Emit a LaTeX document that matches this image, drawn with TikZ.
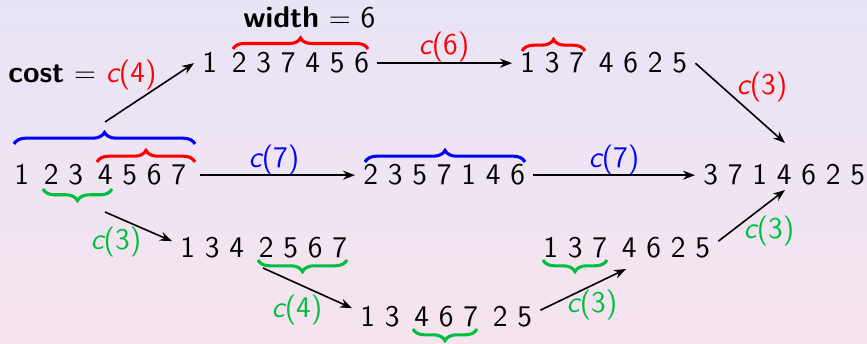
\documentclass[tikz,border=0pt]{standalone}
\usetikzlibrary{decorations.pathreplacing,arrows.meta}
\definecolor{bgtop}{RGB}{232,228,246}
\definecolor{bgbot}{RGB}{246,228,238}
\definecolor{myred}{RGB}{255,0,0}
\definecolor{myblue}{RGB}{0,0,255}
\definecolor{mygreen}{RGB}{0,190,64}
\newcommand{\xg}{\hspace{2.5pt}}
\newcommand{\cc}[1]{{\itshape c}(#1)}
\begin{document}
\begin{tikzpicture}[x=0.5pt,y=0.5pt,
  every node/.style={font=\fontsize{15}{18}\selectfont\sffamily},
  seq/.style={anchor=base west, inner xsep=4pt, inner ysep=0pt},
  lab/.style={inner sep=0pt},
  arr/.style={-{Stealth[length=6pt,width=4.5pt]}, line width=0.8pt, black},
  brc/.style={decorate, decoration={brace, amplitude=5.8pt}, line width=1.55pt},
]
\useasboundingbox (0,0) rectangle (867,343);
\shade[top color=bgtop, bottom color=bgbot] (0,0) rectangle (867,343);

% sequences
\node[seq] (t1) at (194,270) {1\xg{} 2 3 7 4 5 6};
\node[seq] (t2) at (512,270) {1 3 7\xg{} 4 6 2 5};
\node[seq] (m1) at (6,158) {1\xg{} 2 3\xg{} 4 5 6 7};
\node[seq] (m2) at (355,158) {2 3 5 7 1 4 6};
\node[seq] (m3) at (695,158) {3 7 1 4 6 2 5};
\node[seq] (b1) at (172,86) {1 3 4\xg{} 2 5 6 7};
\node[seq] (b2) at (352,17) {1 3\xg{} 4 6 7\xg{} 2 5};
\node[seq] (b3) at (535,86) {1 3 7\xg{} 4 6 2 5};

% braces
\draw[brc, myblue] (14,199) -- (195,199);
\draw[brc, myred] (97,181) -- (195,181);
\draw[brc, mygreen] (112,154) -- (43,154);
\draw[brc, myred, decoration={amplitude=5.5pt}] (233,294) -- (368,294);
\draw[brc, myred] (522,292) -- (585,292);
\draw[brc, myblue] (365,181) -- (525,181);
\draw[brc, mygreen] (347,83) -- (258,83);
\draw[brc, mygreen] (477,14) -- (413,14);
\draw[brc, mygreen] (607,83) -- (543,83);

% labels
\node[lab, anchor=base west] (cost) at (8,260) {{\bfseries cost} $=$ \textcolor{myred}{\cc{4}}};
\node[lab, anchor=base west] (width) at (243,315) {{\bfseries width} $=$ 6};
\node[lab, myred] (l1) at (444,295.5) {\cc{6}};
\node[lab, myred] (l2) at (762,255.5) {\cc{3}};
\node[lab, myblue] (l3) at (274,183) {\cc{7}};
\node[lab, myblue] (l4) at (614,183) {\cc{7}};
\node[lab, mygreen] (l5) at (116,101) {\cc{3}};
\node[lab, mygreen] (l6) at (297,32.5) {\cc{4}};
\node[lab, mygreen] (l7) at (592,38) {\cc{3}};
\node[lab, mygreen] (l8) at (769,112) {\cc{3}};

% arrow end points
\coordinate (a1s) at (105,221);
\coordinate (a3e) at (785,200);
\coordinate (a6s) at (105,131);
\coordinate (a7s) at (263,75);
\coordinate (a8e) at (626,74);
\coordinate (a9e) at (785,153);

% arrows
\draw[arr] (a1s) -- (t1.west);
\draw[arr] (t1.east) -- (t2.west);
\draw[arr] (t2.east) -- (a3e);
\draw[arr] ([xshift=3pt]m1.east) -- (m2.west);
\draw[arr] (m2.east) -- (m3.west);
\draw[arr] (a6s) -- ([yshift=3pt]b1.west);
\draw[arr] (a7s) -- ([yshift=4pt]b2.west);
\draw[arr] ([yshift=3pt]b2.east) -- (a8e);
\draw[arr] ([yshift=3pt]b3.east) -- (a9e);
\end{tikzpicture}
\end{document}
